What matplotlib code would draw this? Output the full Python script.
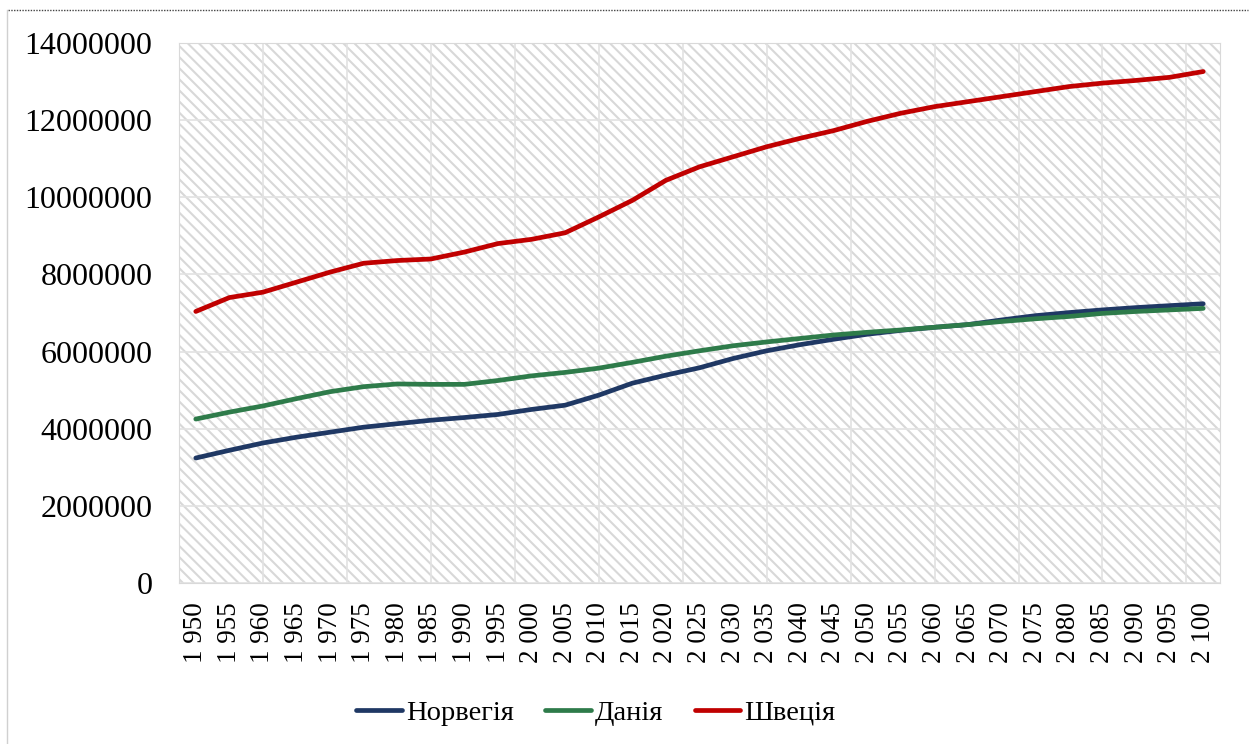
import numpy as np
import matplotlib.pyplot as plt
from matplotlib.lines import Line2D
from matplotlib.patches import Rectangle

years = list(range(1950, 2101, 5))
norway = [3.24, 3.44, 3.63, 3.78, 3.91, 4.04, 4.13, 4.22, 4.29, 4.37, 4.50,
          4.61, 4.87, 5.18, 5.39, 5.58, 5.82, 6.02, 6.18, 6.32, 6.45, 6.55,
          6.63, 6.70, 6.82, 6.93, 7.01, 7.08, 7.14, 7.19, 7.24]
denmark = [4.25, 4.43, 4.59, 4.78, 4.96, 5.09, 5.16, 5.15, 5.15, 5.25, 5.37,
           5.46, 5.57, 5.72, 5.88, 6.02, 6.15, 6.25, 6.34, 6.43, 6.50, 6.56,
           6.63, 6.70, 6.78, 6.85, 6.91, 6.99, 7.04, 7.08, 7.12]
sweden = [7.04, 7.40, 7.54, 7.80, 8.06, 8.29, 8.36, 8.40, 8.58, 8.80, 8.91,
          9.08, 9.49, 9.92, 10.44, 10.79, 11.05, 11.31, 11.53, 11.73, 11.97, 12.18,
          12.35, 12.48, 12.61, 12.74, 12.87, 12.96, 13.03, 13.11, 13.26]
series_names = ["Норвегія", "Данія", "Швеція"]
colors = ["#1f3864", "#2e7b4a", "#c00000"]
y_ticks = list(range(0, 14000001, 2000000))

plt.rcParams["font.family"] = ["Liberation Serif", "DejaVu Serif"]
plt.rcParams["hatch.linewidth"] = 1.5

W, H = 1256, 744
fig = plt.figure(figsize=(W / 100, H / 100), dpi=100)
ax = fig.add_axes([179 / W, 1 - 583 / H, (1220 - 179) / W, (583 - 43) / H])

x = np.arange(len(years))
ax.set_xlim(-0.5, len(years) - 0.5)
ax.set_ylim(0, 14e6)

# hatched background of the plot area
ax.add_patch(Rectangle((0, 0), 1, 1, transform=ax.transAxes, facecolor="white",
                       edgecolor="#d8d8d8", linewidth=0, hatch="\\\\\\", zorder=0))

ax.set_axisbelow(True)
ax.yaxis.grid(True, color="#e2e2e2", linewidth=1.2)
for v in np.arange(-0.5, len(years), 2.5):
    ax.axvline(v, color="#e2e2e2", linewidth=1.2, zorder=1)

for vals, name, c in zip([norway, denmark, sweden], series_names, colors):
    ax.plot(x, np.array(vals) * 1e6, color=c, linewidth=3.4, label=name,
            solid_capstyle="round", solid_joinstyle="round", zorder=3)

for s in ax.spines.values():
    s.set_color("#d9d9d9")

ax.set_xticks(x)
ax.set_xticklabels([f"{y // 1000} {y % 1000:03d}" for y in years],
                   rotation=90, fontsize=19.5)
ax.set_yticks(y_ticks)
ax.set_yticklabels([str(v) for v in y_ticks], fontsize=23)
ax.tick_params(axis="both", length=0)
ax.tick_params(axis="x", pad=14)
ax.tick_params(axis="y", pad=19)

handles, labels = ax.get_legend_handles_labels()
fig.legend(handles, labels, loc="center", bbox_to_anchor=(596 / W, 1 - 713 / H),
           ncol=3, frameon=False, fontsize=20.5, handlelength=1.6,
           handletextpad=0.15, columnspacing=1.1)

# frame of the original screenshot
fig.add_artist(Line2D([8 / W, 1248 / W], [1 - 10 / H] * 2, transform=fig.transFigure,
                      color="#444444", linewidth=1, linestyle=(0, (1, 1))))
fig.add_artist(Line2D([7 / W] * 2, [0, 1 - 10 / H], transform=fig.transFigure,
                      color="#d0d0d0", linewidth=1))

fig.savefig("out.png", dpi=100)
